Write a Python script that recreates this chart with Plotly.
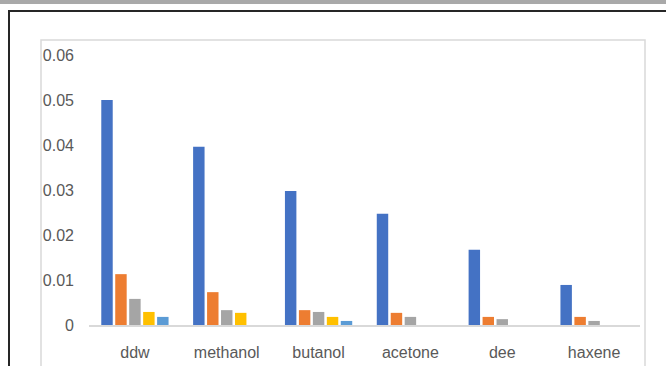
import plotly.graph_objects as go

# Solvent categories and the five measured series (blank where no reading)
categories = ["ddw", "methanol", "butanol", "acetone", "dee", "haxene"]
series_names = ["Series1", "Series2", "Series3", "Series4", "Series5"]
series_1 = [0.0500, 0.0396, 0.0298, 0.0247, 0.0167, 0.0089]
series_2 = [0.0113, 0.0073, 0.0033, 0.0027, 0.0018, 0.0018]
series_3 = [0.0058, 0.0033, 0.0029, 0.0018, 0.0013, 0.0009]
series_4 = [0.0029, 0.0027, 0.0018, None, None, None]
series_5 = [0.0018, None, 0.0009, None, None, None]
y_tick_values = [0, 0.01, 0.02, 0.03, 0.04, 0.05, 0.06]
y_tick_labels = ["0", "0.01", "0.02", "0.03", "0.04", "0.05", "0.06"]

colors = ["#4472C4", "#ED7D31", "#A5A5A5", "#FFC000", "#5B9BD5"]
all_series = [series_1, series_2, series_3, series_4, series_5]

W, H = 666, 366
L, R, T, B = 89, 26, 55, 41
plot_w = W - L - R
plot_h = H - T - B


def px_x(x):
    return (x - L) / plot_w


def px_y(y):
    return (H - B - y) / plot_h


fig = go.Figure()
for name, vals, col in zip(series_names, all_series, colors):
    fig.add_trace(go.Bar(
        x=categories, y=vals, name=name,
        marker=dict(color=col, line=dict(width=0)),
    ))

font = dict(family="Liberation Sans, Arial, sans-serif", size=16, color="#595959")

shapes = [
    # grey band along the top edge of the page
    dict(type="rect", xref="paper", yref="paper",
         x0=px_x(-5), x1=px_x(W + 5), y0=px_y(4), y1=px_y(-5),
         fillcolor="#a9a9a9", line=dict(width=0), layer="below"),
    # dark outer frame
    dict(type="rect", xref="paper", yref="paper",
         x0=px_x(9), x1=px_x(W + 20), y0=px_y(H + 20), y1=px_y(11),
         fillcolor="rgba(0,0,0,0)", line=dict(color="#262626", width=2), layer="below"),
    # light chart-area border
    dict(type="rect", xref="paper", yref="paper",
         x0=px_x(41), x1=px_x(645), y0=px_y(H + 20), y1=px_y(40),
         fillcolor="rgba(0,0,0,0)", line=dict(color="#d9d9d9", width=1.5), layer="below"),
]

fig.update_layout(
    width=W, height=H,
    margin=dict(l=L, r=R, t=T, b=B),
    paper_bgcolor="white", plot_bgcolor="white",
    barmode="group", bargap=0.24, bargroupgap=0.18,
    showlegend=False,
    font=font,
    shapes=shapes,
    xaxis=dict(
        showgrid=False, showline=True, linecolor="#d9d9d9", linewidth=1.5,
        ticks="", tickfont=font, ticklabelstandoff=12, zeroline=False,
        automargin=False,
    ),
    yaxis=dict(
        range=[0, 0.06], tickvals=y_tick_values, ticktext=y_tick_labels,
        showgrid=False, showline=False, zeroline=False, ticks="",
        tickfont=font, ticklabelstandoff=14, automargin=False,
    ),
)

fig.write_html("out.html")
